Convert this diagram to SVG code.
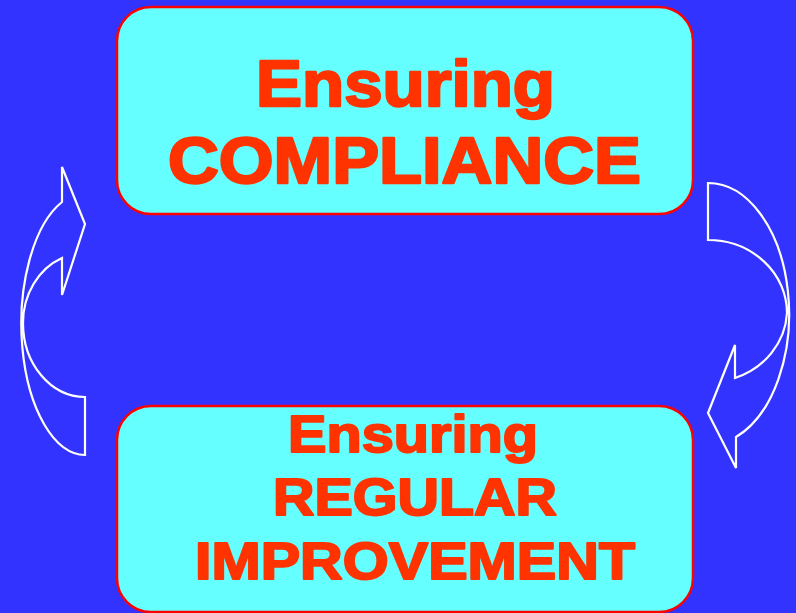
<svg xmlns="http://www.w3.org/2000/svg" width="796" height="613" viewBox="0 0 796 613">
<style>
.box{fill:#66FFFF;stroke:#FF0000;stroke-width:2.5}
.t{font-family:"Liberation Sans",Arial,sans-serif;font-weight:bold;fill:#FF3300;stroke:#FF3300;stroke-linejoin:round;text-anchor:middle}
.big{font-size:64px;stroke-width:2.4}
.small{font-size:51.5px;stroke-width:2}
.arr{fill:none;stroke:#FFFFFF;stroke-width:2.2;stroke-linejoin:miter}
</style>
<rect x="0" y="0" width="796" height="613" fill="#3333FF"/>
<g id="compliance">
<rect class="box" x="117" y="7" width="576" height="207" rx="34" ry="34"/>
<text class="t big" x="405.5" y="105.5" textLength="299" lengthAdjust="spacingAndGlyphs">Ensuring</text>
<text class="t big" x="404.5" y="182.5" textLength="473" lengthAdjust="spacingAndGlyphs">COMPLIANCE</text>
</g>
<g id="improvement">
<rect class="box" x="117" y="406" width="576" height="206" rx="34" ry="34"/>
<text class="t small" x="413" y="451.5" textLength="250" lengthAdjust="spacingAndGlyphs">Ensuring</text>
<text class="t small" x="415" y="514.5" textLength="284" lengthAdjust="spacingAndGlyphs">REGULAR</text>
<text class="t small" x="415" y="578.5" textLength="440" lengthAdjust="spacingAndGlyphs">IMPROVEMENT</text>
</g>
<g id="connectors">
<path class="arr" d="M62,202 A64 131 0 0 0 85,455 L85,397 A62 74 0 0 1 23,323 A62 70 0 0 1 62,258 L62,295 L85,224 L62,167 Z"/>
<path class="arr" d="M708,183 A81 131 0 0 1 736,437 L736,468 L708,413 L735,345 L735,378 A78 73 0 0 0 787,313 A79 73 0 0 0 708,240 Z"/>
</g>
</svg>
